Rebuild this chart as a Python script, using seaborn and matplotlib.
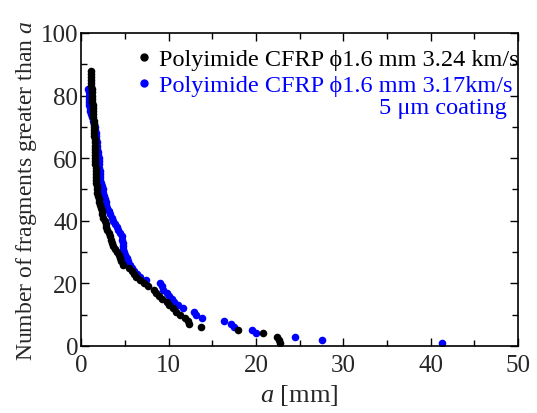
import numpy as np
import pandas as pd
import matplotlib
matplotlib.use("Agg")
import matplotlib.pyplot as plt
import seaborn as sns
from matplotlib.ticker import MultipleLocator
from matplotlib.lines import Line2D

# fragment sizes a [mm], sorted from largest (count 1) to smallest
black_label = "Polyimide CFRP \u03d51.6 mm 3.24 km/s"
black_a = [22.7, 22.6, 22.4, 20.8, 18.0, 13.7, 12.4, 12.2, 11.9, 11.3,
           10.9, 10.5, 10.1, 9.8, 9.2, 8.9, 8.6, 8.3, 7.6, 7.2,
           6.7, 6.3, 6.1, 5.8, 5.5, 4.8, 4.6, 4.5, 4.3, 4.1,
           3.9, 3.7, 3.55, 3.4, 3.3, 3.15, 3.0, 2.9, 2.8, 2.7,
           2.55, 2.4, 2.35, 2.25, 2.2, 2.1, 2.0, 1.95, 1.85, 1.8,
           1.78, 1.76, 1.74, 1.72, 1.7, 1.68, 1.66, 1.64, 1.62, 1.6,
           1.59, 1.58, 1.57, 1.56, 1.55, 1.54, 1.53, 1.52, 1.51, 1.5,
           1.47, 1.44, 1.41, 1.38, 1.35, 1.33, 1.31, 1.29, 1.27, 1.25,
           1.23, 1.21, 1.19, 1.17, 1.15, 1.13, 1.12, 1.1]

blue_label = "Polyimide CFRP \u03d51.6 mm 3.17km/s"
blue_note = "5 \u03bcm coating"
blue_a = [41.3, 27.6, 24.5, 20.0, 19.5, 17.5, 17.2, 16.4, 13.8, 13.2,
          12.9, 11.7, 11.1, 10.6, 10.4, 10.0, 9.8, 9.4, 9.2, 9.05,
          7.4, 6.7, 6.4, 6.0, 5.8, 5.6, 5.4, 5.2, 5.0, 4.95,
          4.85, 4.8, 4.75, 4.7, 4.65, 4.4, 4.2, 4.1, 3.9, 3.7,
          3.5, 3.3, 3.15, 3.0, 2.9, 2.8, 2.75, 2.65, 2.55, 2.5,
          2.4, 2.3, 2.2, 2.2, 2.2, 2.15, 2.1, 2.05, 2.0, 2.0,
          1.95, 1.9, 1.85, 1.82, 1.8, 1.75, 1.7, 1.65, 1.6, 1.55,
          1.45, 1.35, 1.25, 1.15, 1.05, 1.0, 0.95, 0.9, 0.88, 0.86,
          0.85, 0.84]

BLUE = "#0000ff"

# cumulative count: number of fragments with size >= a
black_df = pd.DataFrame({"a": black_a, "n": np.arange(1, len(black_a) + 1)})
blue_df = pd.DataFrame({"a": blue_a, "n": np.arange(1, len(blue_a) + 1)})

sns.set_style("ticks")
plt.rcParams["font.family"] = ["Liberation Serif", "DejaVu Serif"]
plt.rcParams["mathtext.fontset"] = "custom"
plt.rcParams["mathtext.rm"] = "Liberation Serif"
plt.rcParams["mathtext.it"] = "Liberation Serif:italic"

fig = plt.figure(figsize=(5.37, 4.14), dpi=100)
ax = fig.add_axes([0.151, 0.162, 0.814, 0.756])

# blue first so the black run sits on top, as in the original
sns.scatterplot(data=blue_df, x="a", y="n", color=BLUE, s=30, linewidth=0, ax=ax)
sns.scatterplot(data=black_df, x="a", y="n", color="black", s=30, linewidth=0, ax=ax)

ax.set_xlim(0, 50)
ax.set_ylim(0, 100)
ax.xaxis.set_major_locator(MultipleLocator(10))
ax.xaxis.set_minor_locator(MultipleLocator(5))
ax.yaxis.set_major_locator(MultipleLocator(20))
ax.yaxis.set_minor_locator(MultipleLocator(10))
ax.tick_params(which="both", direction="in", top=True, right=True, labelsize=18, width=1.0, color="black")
ax.tick_params(which="major", length=6)
ax.tick_params(which="minor", length=4)
ax.tick_params(axis="y", pad=2)
ax.tick_params(axis="x", pad=6)
for sp in ax.spines.values():
    sp.set_linewidth(1.2)
    sp.set_color("black")

ax.set_xlabel("$a$ [mm]", fontsize=19, labelpad=4)
ax.set_ylabel("Number of fragments greater than $a$", fontsize=17, labelpad=1)

handles = [Line2D([], [], ls="", marker="o", ms=5, color="black"),
           Line2D([], [], ls="", marker="o", ms=5, color=BLUE)]
leg = ax.legend(handles, [black_label, blue_label], loc="upper right", frameon=False,
                fontsize=17.5, handletextpad=0.1, borderaxespad=0.0, labelspacing=0.15,
                handlelength=1.0, borderpad=0.2, bbox_to_anchor=(1.012, 0.966))
for txt, col in zip(leg.get_texts(), ["black", BLUE]):
    txt.set_color(col)
ax.text(0.975, 0.762, blue_note, transform=ax.transAxes, ha="right", va="center",
        fontsize=17.5, color=BLUE)

fig.savefig("out.png", dpi=100)
